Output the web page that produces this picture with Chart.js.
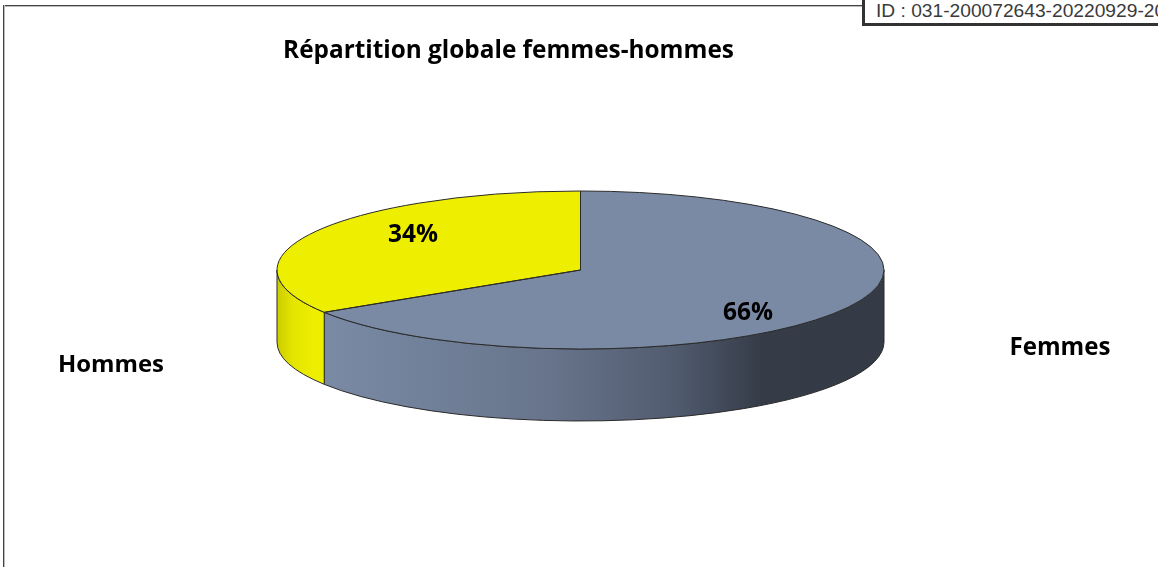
<!DOCTYPE html>
<html>
<head>
<meta charset="utf-8">
<script src="https://cdn.jsdelivr.net/npm/chart.js@4/dist/chart.umd.min.js"></script>
<style>
html,body{margin:0;padding:0;background:#fff;}
#wrap{position:relative;width:1158px;height:567px;overflow:hidden;background:#fff;}
#c{position:absolute;left:0;top:0;}
.frame-top{position:absolute;left:3px;top:5px;width:862px;height:2px;background:linear-gradient(#444 0 50%,#bbb 50% 100%);}
.frame-left{position:absolute;left:3px;top:5px;width:2px;height:570px;background:linear-gradient(90deg,#444 0 50%,#bbb 50% 100%);}
.idbox{position:absolute;left:862px;top:-4px;width:330px;height:30px;border-left:3px solid #333;border-bottom:3px solid #333;background:#fff;box-sizing:border-box;}
.idbox span{position:absolute;left:11px;top:4px;font:19.2px "Liberation Sans",Arial,sans-serif;color:#3a3a3a;white-space:nowrap;line-height:22px;}
</style>
</head>
<body>
<div id="wrap">
  <canvas id="c" width="1158" height="567"></canvas>
  <div class="frame-top"></div>
  <div class="frame-left"></div>
  <div class="idbox"><span>ID : 031-200072643-20220929-2022</span></div>
</div>
<script>
// ---- data ----
const chartTitle = 'Répartition globale femmes-hommes';
const categories = ['Femmes', 'Hommes'];
const values = [66, 34];
const topColors = ['#7A8AA4', '#EEEE00'];

// ---- style / geometry of the 3D look ----
const FONT = '"Open Sans", "Noto Sans", sans-serif';
const CY = 270, RX = 303.5, RY = 79, DEPTH = 72;
const wallStops = [
  [[0,'#7E8EA9'],[0.12,'#7888A2'],[0.45,'#67748B'],[0.65,'#525C70'],[0.8,'#353C48'],[1,'#343B46']],
  [[0,'#CCCC00'],[0.025,'#E4E400'],[0.06,'#EEEE00'],[1,'#EEEE00']]
];
const OUTLINE = '#2a2a2a';
// text widths measured on the reference, used to size the fallback font
const TITLE_W = 451, PCT_W = 50, CAT_W = {Femmes: 101, Hommes: 106};

function fitFont(ctx, text, width, base){
  ctx.font = 'bold ' + base + 'px ' + FONT;
  const w = ctx.measureText(text).width;
  return 'bold ' + (base * width / w).toFixed(2) + 'px ' + FONT;
}

function geom(chart){
  const a = chart.getDatasetMeta(0).data[0];
  return {cx: a.x, cy: CY, rx: RX, ry: RY, d: DEPTH, ox: a.x, oy: a.y, r: a.outerRadius};
}

function frontRanges(s, e){
  const out = [];
  for (let k = -1; k <= 1; k++){
    const lo = Math.max(s, 2*Math.PI*k), hi = Math.min(e, Math.PI + 2*Math.PI*k);
    if (hi > lo) out.push([lo, hi]);
  }
  return out;
}

const pie3d = {
  id: 'pie3d',
  beforeDatasetsDraw(chart){
    const ctx = chart.ctx, g = geom(chart);
    const arcs = chart.getDatasetMeta(0).data;
    arcs.forEach((arc, i) => {
      frontRanges(arc.startAngle, arc.endAngle).forEach(([lo, hi]) => {
        const grad = ctx.createLinearGradient(g.cx - g.rx, 0, g.cx + g.rx, 0);
        wallStops[i].forEach(([p, c]) => grad.addColorStop(p, c));
        ctx.beginPath();
        ctx.ellipse(g.cx, g.cy, g.rx, g.ry, 0, lo, hi, false);
        ctx.ellipse(g.cx, g.cy + g.d, g.rx, g.ry, 0, hi, lo, true);
        ctx.closePath();
        ctx.fillStyle = grad;
        ctx.fill();
        ctx.lineWidth = 1;
        ctx.strokeStyle = OUTLINE;
        ctx.stroke();
      });
    });
    ctx.save();
    ctx.translate(g.cx, g.cy);
    ctx.scale(g.rx / g.r, g.ry / g.r);
    ctx.translate(-g.ox, -g.oy);
  },
  afterDatasetsDraw(chart){
    const ctx = chart.ctx;
    ctx.restore();
    const g = geom(chart);
    const arcs = chart.getDatasetMeta(0).data;
    ctx.lineWidth = 1;
    ctx.strokeStyle = OUTLINE;
    arcs.forEach(arc => {
      ctx.beginPath();
      ctx.moveTo(g.cx, g.cy);
      ctx.ellipse(g.cx, g.cy, g.rx, g.ry, 0, arc.startAngle, arc.endAngle, false);
      ctx.closePath();
      ctx.stroke();
    });
    const data = chart.data.datasets[0].data;
    const total = data.reduce((a, b) => a + b, 0);
    ctx.fillStyle = '#000';
    ctx.textAlign = 'center';
    ctx.textBaseline = 'middle';
    arcs.forEach((arc, i) => {
      const m = (arc.startAngle + arc.endAngle) / 2;
      const x = g.cx + 0.63 * g.rx * Math.cos(m);
      const y = g.cy + 1.02 * g.ry * Math.sin(m) + 4;
      const t = Math.round(data[i] / total * 100) + '%';
      ctx.font = fitFont(ctx, t, PCT_W, 22);
      ctx.fillText(t, x, y);
    });
    arcs.forEach((arc, i) => {
      const m = (arc.startAngle + arc.endAngle) / 2;
      const left = Math.cos(m) < 0;
      const x = left ? g.cx - g.rx - 166 : g.cx + g.rx + 176;
      const y = g.cy + (left ? 95 : 78);
      const t = chart.data.labels[i];
      ctx.font = fitFont(ctx, t, CAT_W[t] || 100, 22);
      ctx.fillText(t, x, y);
    });
    ctx.font = fitFont(ctx, chartTitle, TITLE_W, 20);
    ctx.fillText(chartTitle, 508.5, 51);
  }
};

new Chart(document.getElementById('c'), {
  type: 'pie',
  data: {
    labels: categories,
    datasets: [{
      data: values,
      backgroundColor: topColors,
      borderWidth: 0,
      hoverOffset: 0,
      clip: false
    }]
  },
  options: {
    responsive: false,
    animation: false,
    events: [],
    devicePixelRatio: 1,
    layout: { padding: { left: 3 } },
    plugins: {
      legend: { display: false },
      title: { display: false },
      tooltip: { enabled: false }
    }
  },
  plugins: [pie3d]
});
</script>
</body>
</html>
